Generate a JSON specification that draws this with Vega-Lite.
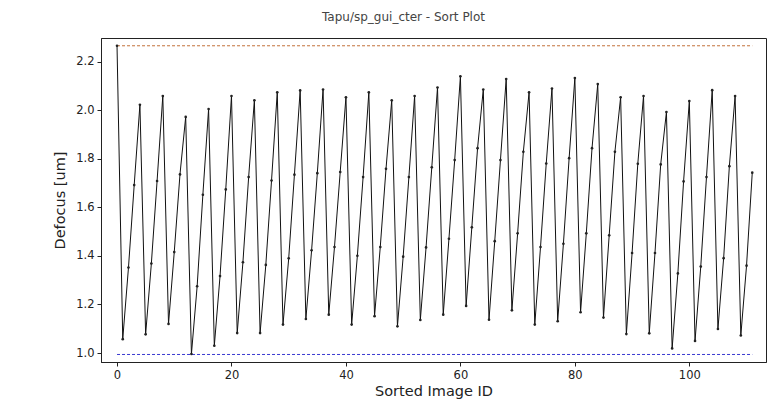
{
  "$schema": "https://vega.github.io/schema/vega-lite/v6.json",
  "autosize": "none",
  "width": 665,
  "height": 324,
  "padding": {"left": 101, "top": 38, "right": 3, "bottom": 37},
  "background": "white",
  "title": {"text": "Tapu/sp_gui_cter - Sort Plot", "anchor": "middle", "dx": -30, "offset": 14, "fontSize": 12, "fontWeight": "normal", "color": "#444", "font": "DejaVu Sans"},
  "datasets": {
    "defocus": [
      {"id": 0, "defocus": 2.266}, {"id": 1, "defocus": 1.057}, {"id": 2, "defocus": 1.352}, {"id": 3, "defocus": 1.692},
      {"id": 4, "defocus": 2.023}, {"id": 5, "defocus": 1.077}, {"id": 6, "defocus": 1.369}, {"id": 7, "defocus": 1.709},
      {"id": 8, "defocus": 2.059}, {"id": 9, "defocus": 1.12}, {"id": 10, "defocus": 1.416}, {"id": 11, "defocus": 1.736},
      {"id": 12, "defocus": 1.973}, {"id": 13, "defocus": 0.996}, {"id": 14, "defocus": 1.275}, {"id": 15, "defocus": 1.652},
      {"id": 16, "defocus": 2.005}, {"id": 17, "defocus": 1.03}, {"id": 18, "defocus": 1.317}, {"id": 19, "defocus": 1.674},
      {"id": 20, "defocus": 2.059}, {"id": 21, "defocus": 1.082}, {"id": 22, "defocus": 1.374}, {"id": 23, "defocus": 1.725},
      {"id": 24, "defocus": 2.041}, {"id": 25, "defocus": 1.082}, {"id": 26, "defocus": 1.363}, {"id": 27, "defocus": 1.711},
      {"id": 28, "defocus": 2.074}, {"id": 29, "defocus": 1.117}, {"id": 30, "defocus": 1.39}, {"id": 31, "defocus": 1.735},
      {"id": 32, "defocus": 2.082}, {"id": 33, "defocus": 1.14}, {"id": 34, "defocus": 1.423}, {"id": 35, "defocus": 1.741},
      {"id": 36, "defocus": 2.086}, {"id": 37, "defocus": 1.158}, {"id": 38, "defocus": 1.437}, {"id": 39, "defocus": 1.746},
      {"id": 40, "defocus": 2.054}, {"id": 41, "defocus": 1.117}, {"id": 42, "defocus": 1.401}, {"id": 43, "defocus": 1.725},
      {"id": 44, "defocus": 2.074}, {"id": 45, "defocus": 1.152}, {"id": 46, "defocus": 1.437}, {"id": 47, "defocus": 1.759},
      {"id": 48, "defocus": 2.041}, {"id": 49, "defocus": 1.11}, {"id": 50, "defocus": 1.397}, {"id": 51, "defocus": 1.725},
      {"id": 52, "defocus": 2.059}, {"id": 53, "defocus": 1.136}, {"id": 54, "defocus": 1.435}, {"id": 55, "defocus": 1.765},
      {"id": 56, "defocus": 2.094}, {"id": 57, "defocus": 1.158}, {"id": 58, "defocus": 1.471}, {"id": 59, "defocus": 1.795},
      {"id": 60, "defocus": 2.14}, {"id": 61, "defocus": 1.194}, {"id": 62, "defocus": 1.518}, {"id": 63, "defocus": 1.844},
      {"id": 64, "defocus": 2.086}, {"id": 65, "defocus": 1.137}, {"id": 66, "defocus": 1.461}, {"id": 67, "defocus": 1.795},
      {"id": 68, "defocus": 2.129}, {"id": 69, "defocus": 1.176}, {"id": 70, "defocus": 1.493}, {"id": 71, "defocus": 1.829},
      {"id": 72, "defocus": 2.074}, {"id": 73, "defocus": 1.117}, {"id": 74, "defocus": 1.437}, {"id": 75, "defocus": 1.781},
      {"id": 76, "defocus": 2.09}, {"id": 77, "defocus": 1.131}, {"id": 78, "defocus": 1.45}, {"id": 79, "defocus": 1.803},
      {"id": 80, "defocus": 2.133}, {"id": 81, "defocus": 1.168}, {"id": 82, "defocus": 1.493}, {"id": 83, "defocus": 1.844},
      {"id": 84, "defocus": 2.108}, {"id": 85, "defocus": 1.146}, {"id": 86, "defocus": 1.485}, {"id": 87, "defocus": 1.829},
      {"id": 88, "defocus": 2.054}, {"id": 89, "defocus": 1.078}, {"id": 90, "defocus": 1.412}, {"id": 91, "defocus": 1.78},
      {"id": 92, "defocus": 2.059}, {"id": 93, "defocus": 1.081}, {"id": 94, "defocus": 1.412}, {"id": 95, "defocus": 1.777},
      {"id": 96, "defocus": 1.993}, {"id": 97, "defocus": 1.019}, {"id": 98, "defocus": 1.328}, {"id": 99, "defocus": 1.707},
      {"id": 100, "defocus": 2.038}, {"id": 101, "defocus": 1.05}, {"id": 102, "defocus": 1.356}, {"id": 103, "defocus": 1.725},
      {"id": 104, "defocus": 2.083}, {"id": 105, "defocus": 1.099}, {"id": 106, "defocus": 1.391}, {"id": 107, "defocus": 1.77},
      {"id": 108, "defocus": 2.059}, {"id": 109, "defocus": 1.072}, {"id": 110, "defocus": 1.36}, {"id": 111, "defocus": 1.743}
    ],
    "thresholds": [
      {"id": 0, "defocus": 2.266, "kind": "upper"}, {"id": 111, "defocus": 2.266, "kind": "upper"},
      {"id": 0, "defocus": 0.994, "kind": "lower"}, {"id": 111, "defocus": 0.994, "kind": "lower"}
    ]
  },
  "encoding": {
    "x": {"field": "id", "type": "quantitative", "scale": {"domain": [-2.8, 113.4], "nice": false, "zero": false},
      "axis": {"title": "Sorted Image ID", "values": [0, 20, 40, 60, 80, 100], "grid": false, "titlePadding": 4}},
    "y": {"field": "defocus", "type": "quantitative", "scale": {"domain": [0.963, 2.298], "nice": false, "zero": false},
      "axis": {"title": "Defocus [um]", "values": [1.0, 1.2, 1.4, 1.6, 1.8, 2.0, 2.2], "format": ".1f", "grid": false, "titlePadding": 8}}
  },
  "layer": [
    {
      "data": {"name": "thresholds"},
      "mark": {"type": "line", "strokeDash": [3, 2], "strokeWidth": 1},
      "encoding": {
        "detail": {"field": "kind"},
        "color": {"field": "kind", "type": "nominal", "scale": {"domain": ["upper", "lower"], "range": ["#c2713a", "#3a3ad0"]}, "legend": null}
      }
    },
    {
      "data": {"name": "defocus"},
      "mark": {"type": "line", "color": "#111", "strokeWidth": 1},
      "encoding": {"order": {"field": "id"}}
    },
    {
      "data": {"name": "defocus"},
      "mark": {"type": "circle", "color": "#222", "size": 7, "opacity": 1}
    }
  ],
  "config": {
    "font": "DejaVu Sans",
    "view": {"stroke": "#222", "strokeWidth": 1},
    "axis": {
      "domainColor": "#222", "tickColor": "#222", "tickSize": 4, "labelFontSize": 11.5, "labelColor": "#222",
      "titleFontSize": 14.5, "titleFontWeight": "normal", "titleColor": "#222", "labelPadding": 3, "labelFont": "DejaVu Sans", "titleFont": "DejaVu Sans"
    }
  }
}
